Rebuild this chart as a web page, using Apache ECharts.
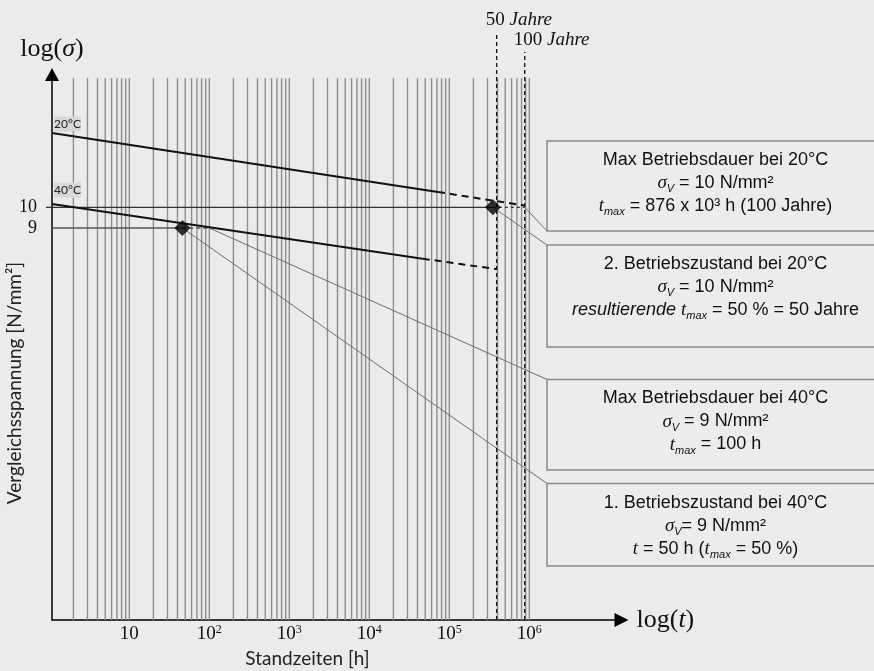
<!DOCTYPE html>
<html>
<head>
<meta charset="utf-8">
<script src="https://cdn.jsdelivr.net/npm/echarts@6/dist/echarts.min.js"></script>
<style>
html, body { margin: 0; padding: 0; background: #ebebeb; }
#main { width: 874px; height: 671px; }
</style>
</head>
<body>
<div id="main"></div>
<script>
// Achsbereiche (log)
var X_MIN = 1.08, X_MAX = 1.42e7;
var Y_MIN = 1.224, Y_MAX = 19.66;
var GRID_LINE_TOP = 19.3;

// Beschriftung der Achsen
var xTicks = [10, 100, 1000, 10000, 100000, 1000000];
var yTicks = [9, 10];

// senkrechte Rasterlinien (Standzeit in h)
var gridTimes = [
  2, 3, 4, 5, 6, 7, 8, 9, 10,
  20, 30, 40, 50, 60, 70, 80, 90, 100,
  200, 300, 400, 500, 600, 700, 800, 900, 1000,
  2000, 3000, 4000, 5000, 6000, 7000, 8000, 9000, 10000,
  20000, 30000, 40000, 50000, 60000, 70000, 80000, 90000, 100000,
  200000, 300000, 400000, 500000, 600000, 700000, 800000, 900000, 1000000
];

// Zeitstandlinien [t, sigma]
var line20Solid = [[1.08, 14.6], [72000, 10.81]];
var line20Dashed = [[72000, 10.81], [876000, 10.09]];
var line40Solid = [[1.08, 10.17], [46500, 7.70]];
var line40Dashed = [[46500, 7.70], [391000, 7.30]];

// Hilfslinien sigma = 10 und sigma = 9
var ref10Solid = [[1.08, 10], [350000, 10]];
var ref10Dashed = [[350000, 10], [876000, 10]];
var ref9Solid = [[1.08, 9], [46, 9]];
var ref9Dashed = [[46, 9], [100, 9]];

// Betriebszustaende (Rauten)
var states = [[46, 9], [350000, 10]];

// 50 / 100 Jahre
var yearTimes = [391000, 876000];
var yearNames = ['50', '100'];

// Bezugspunkte der Hinweislinien
var calloutPoints = [[876000, 10], [350000, 10], [100, 9], [46, 9]];

// Hinweiskaesten
var boxTexts = [
  ['Max Betriebsdauer bei 20°C', '{s|σ}{sub|V} = 10 N/mm²', '{s|t}{sub|max} = 876 x 10³ h (100 Jahre)'],
  ['2. Betriebszustand bei 20°C', '{s|σ}{sub|V} = 10 N/mm²', '{it|resultierende }{s|t}{sub|max} = 50 % = 50 Jahre'],
  ['Max Betriebsdauer bei 40°C', '{s|σ}{sub|V} = 9 N/mm²', '{s|t}{sub|max} = 100 h'],
  ['1. Betriebszustand bei 40°C', '{s|σ}{sub|V}= 9 N/mm²', '{s|t} = 50 h ({s|t}{sub|max} = 50 %)']
];

// Layout (Pixel)
var boxRects = [[547, 141, 340, 90], [547, 245, 340, 102], [547, 379.5, 340, 90.5], [547, 483.5, 340, 82.5]];
var calloutTargets = [[547, 231], [547, 245], [547, 379.5], [547, 483.5]];
var yearLineTop = [32, 52];
var yTickLen = [0, 6];

var SERIF = '"Liberation Serif", "DejaVu Serif", serif';
var SANS = 'Lato, "Noto Sans", sans-serif';
var BOX_FONT = '"Liberation Sans", Arial, sans-serif';

var chart = echarts.init(document.getElementById('main'));

function lineSeries(data, color, width, type, z) {
  return {
    type: 'line',
    data: data,
    symbol: 'none',
    silent: true,
    z: z,
    lineStyle: { color: color, width: width, type: type }
  };
}

var boxRich = {
  s: { fontFamily: SERIF, fontStyle: 'italic', fontSize: 19, lineHeight: 23 },
  it: { fontFamily: BOX_FONT, fontStyle: 'italic', fontSize: 18, lineHeight: 23 },
  sub: { fontFamily: BOX_FONT, fontStyle: 'italic', fontSize: 11, lineHeight: 10, verticalAlign: 'bottom' }
};

var graphics = [];
boxRects.forEach(function (r, i) {
  graphics.push({
    type: 'rect',
    shape: { x: r[0], y: r[1], width: r[2], height: r[3] },
    style: { fill: '#ececec', stroke: '#8a8a8a', lineWidth: 1.5 },
    z: 10
  });
  graphics.push({
    type: 'text',
    x: 715.5,
    y: r[1] + (i === 1 ? 41.7 : (i === 3 ? 42.2 : 42)),
    z: 11,
    style: {
      text: boxTexts[i].join('\n'),
      fill: '#111',
      fontFamily: BOX_FONT,
      fontSize: 18,
      lineHeight: 23,
      align: 'center',
      verticalAlign: 'middle',
      rich: boxRich
    }
  });
});

// Temperatur-Marken
[['20°C', 116.5], ['40°C', 182.5]].forEach(function (tag) {
  graphics.push({
    type: 'rect',
    shape: { x: 54, y: tag[1], width: 27, height: 15 },
    style: { fill: '#d8d8d8' },
    z: 10
  });
  graphics.push({
    type: 'text',
    x: 67.5, y: tag[1] + 7.5, z: 11,
    style: { text: tag[0], fill: '#222', font: '12px ' + SANS, align: 'center', verticalAlign: 'middle' }
  });
});

graphics.push({
  type: 'text', x: 307.5, y: 659,
  style: { text: 'Standzeiten [h]', fill: '#222', font: '19px ' + SANS, align: 'center', verticalAlign: 'middle' }
});
graphics.push({
  type: 'text', x: 15, y: 383, rotation: Math.PI / 2,
  style: { text: 'Vergleichsspannung [N/mm²]', fill: '#222', font: '19px ' + SANS, align: 'center', verticalAlign: 'middle' }
});

var option = {
  backgroundColor: '#ebebeb',
  animation: false,
  grid: { left: 52, right: 252.5, top: 74.5, bottom: 51 },
  xAxis: {
    type: 'log',
    logBase: 10,
    min: X_MIN,
    max: X_MAX,
    axisLine: {
      show: true,
      symbol: ['none', 'triangle'],
      symbolSize: [14, 14],
      lineStyle: { color: '#000', width: 1.5 }
    },
    axisTick: { show: false },
    splitLine: { show: false },
    axisLabel: {
      margin: 4,
      formatter: function (v) {
        var e = Math.round(Math.log10(v));
        if (Math.abs(Math.log10(v) - e) > 1e-6 || xTicks.indexOf(Math.pow(10, e)) < 0) return '';
        return e === 1 ? '{n|10}' : '{n|10}{s|' + e + '}';
      },
      rich: {
        n: { fontFamily: SERIF, fontSize: 19, lineHeight: 20, color: '#111' },
        s: { fontFamily: SERIF, fontSize: 12, lineHeight: 12, verticalAlign: 'top', color: '#111' }
      }
    },
    name: '{a|log(}{b|t}{a|)}',
    nameLocation: 'end',
    nameGap: 15,
    nameTextStyle: {
      rich: {
        a: { fontFamily: SERIF, fontSize: 26, color: '#111' },
        b: { fontFamily: SERIF, fontSize: 26, fontStyle: 'italic', color: '#111' }
      }
    }
  },
  yAxis: {
    type: 'log',
    logBase: 10,
    min: Y_MIN,
    max: Y_MAX,
    axisLine: {
      show: true,
      symbol: ['none', 'triangle'],
      symbolSize: [14, 13],
      lineStyle: { color: '#000', width: 1.5 }
    },
    axisTick: { show: false },
    axisLabel: { show: false },
    splitLine: { show: false },
    name: '{a|log(}{b|σ}{a|)}',
    nameLocation: 'end',
    nameGap: 12,
    nameTextStyle: {
      rich: {
        a: { fontFamily: SERIF, fontSize: 26, color: '#111' },
        b: { fontFamily: SERIF, fontSize: 26, fontStyle: 'italic', color: '#111' }
      }
    }
  },
  graphic: graphics,
  series: [
    {
      // Rasterlinien
      type: 'custom',
      silent: true,
      z: 1,
      data: gridTimes.map(function (t) { return [t, Y_MIN]; }),
      renderItem: function (params, api) {
        var b = api.coord([api.value(0), Y_MIN]);
        var t = api.coord([api.value(0), GRID_LINE_TOP]);
        return {
          type: 'line',
          shape: { x1: b[0], y1: b[1], x2: t[0], y2: t[1] },
          style: { stroke: '#8e8e8e', lineWidth: 1.4 }
        };
      }
    },
    {
      // 50 / 100 Jahre
      type: 'custom',
      silent: true,
      z: 4,
      data: yearTimes.map(function (t) { return [t, Y_MIN]; }),
      renderItem: function (params, api) {
        var i = params.dataIndex;
        var b = api.coord([api.value(0), Y_MIN]);
        var top = yearLineTop[i];
        return {
          type: 'group',
          children: [
            {
              type: 'line',
              shape: { x1: b[0], y1: b[1], x2: b[0], y2: top },
              style: { stroke: '#111', lineWidth: 1.3, lineDash: [4, 3] }
            },
            {
              type: 'text',
              x: b[0] - 11, y: top - 12,
              style: {
                text: '{a|' + yearNames[i] + ' }{b|Jahre}',
                align: 'left', verticalAlign: 'middle',
                rich: {
                  a: { fontFamily: SERIF, fontSize: 19, fill: '#111' },
                  b: { fontFamily: SERIF, fontSize: 19, fontStyle: 'italic', fill: '#111' }
                }
              }
            }
          ]
        };
      }
    },
    lineSeries(ref10Solid, '#333', 1.3, 'solid', 2),
    lineSeries(ref10Dashed, '#333', 1.3, [3, 3], 2),
    lineSeries(ref9Solid, '#555', 1.6, 'solid', 2),
    lineSeries(ref9Dashed, '#555', 1.6, [4, 3], 2),
    lineSeries(line20Solid, '#111', 2, 'solid', 3),
    lineSeries(line20Dashed, '#111', 2, [7, 5], 3),
    lineSeries(line40Solid, '#111', 2, 'solid', 3),
    lineSeries(line40Dashed, '#111', 2, [7, 5], 3),
    {
      // Hinweislinien
      type: 'custom',
      silent: true,
      z: 3,
      data: calloutPoints,
      renderItem: function (params, api) {
        var p = api.coord([api.value(0), api.value(1)]);
        var q = calloutTargets[params.dataIndex];
        return {
          type: 'line',
          shape: { x1: p[0], y1: p[1], x2: q[0], y2: q[1] },
          style: { stroke: '#6e6e6e', lineWidth: 1 }
        };
      }
    },
    {
      type: 'scatter',
      data: states,
      symbol: 'diamond',
      symbolSize: 16,
      silent: true,
      z: 5,
      itemStyle: { color: '#000' }
    },
    {
      // Beschriftung 9 / 10 an der Spannungsachse
      type: 'custom',
      silent: true,
      z: 4,
      data: yTicks.map(function (v) { return [X_MIN, v]; }),
      renderItem: function (params, api) {
        var p = api.coord([X_MIN, api.value(1)]);
        var len = yTickLen[params.dataIndex];
        var children = [{
          type: 'text',
          x: p[0] - 15, y: p[1],
          style: {
            text: String(api.value(1)),
            font: '18px ' + SERIF, fill: '#111',
            align: 'right', verticalAlign: 'middle'
          }
        }];
        if (len > 0) {
          children.push({
            type: 'line',
            shape: { x1: p[0] - len, y1: p[1], x2: p[0], y2: p[1] },
            style: { stroke: '#333', lineWidth: 1.3 }
          });
        }
        return { type: 'group', children: children };
      }
    }
  ]
};

chart.setOption(option);
</script>
</body>
</html>
